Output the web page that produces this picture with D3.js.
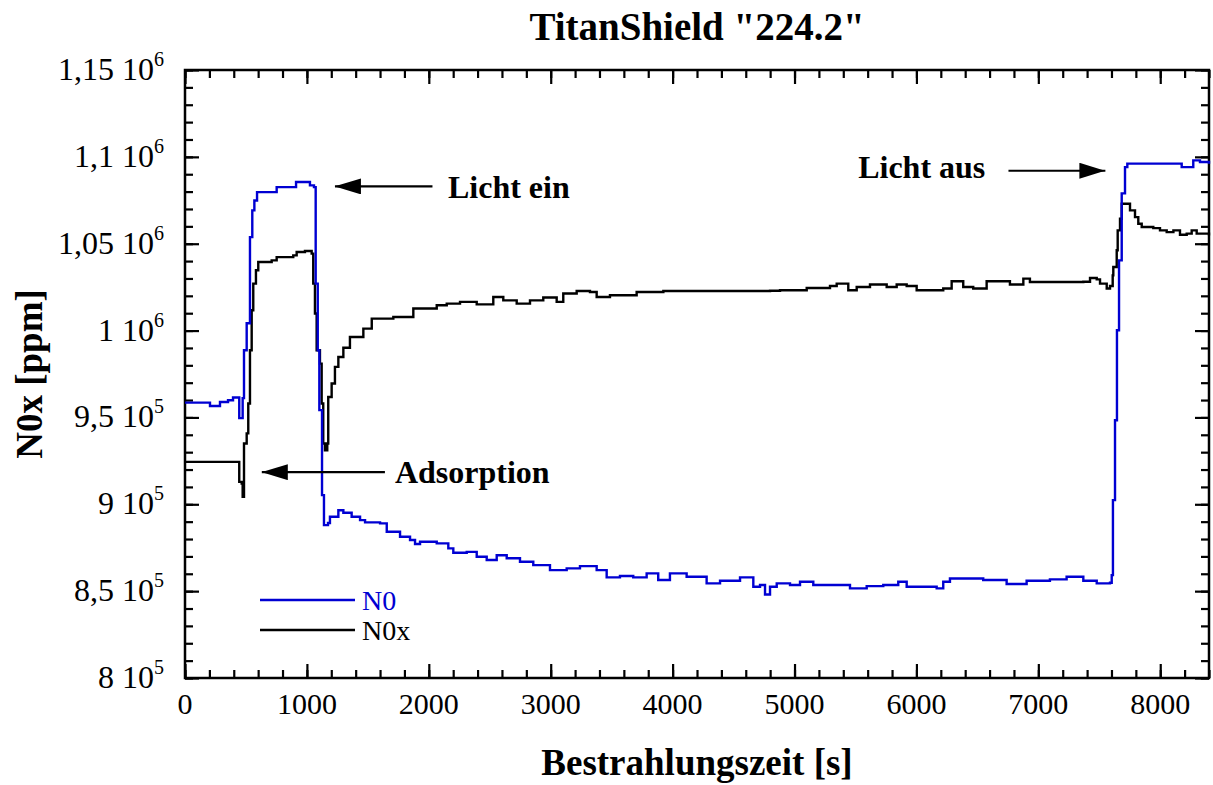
<!DOCTYPE html>
<html>
<head>
<meta charset="utf-8">
<script src="https://cdn.jsdelivr.net/npm/d3@7"></script>
<style>
  body { margin: 0; background: #fff; }
  text { font-family: "Liberation Serif", "Times New Roman", serif; }
</style>
</head>
<body>
<div id="chart"></div>
<script>
// size of the svg
var svgWidth = 1213;
var svgHeight = 785;
var margins = { top: 70, right: 4, left: 185, bottom: 107 };
var width = svgWidth - margins.left - margins.right;
var height = svgHeight - margins.top - margins.bottom;

// N0 (blue) : time [s], ppm
var n0Time = [0, 205, 287, 353, 394, 440, 445, 465, 473, 484, 506, 533, 552, 569, 591, 722, 752, 886, 911, 1001, 1025, 1058,
  1072, 1089, 1102, 1124, 1140, 1173, 1189, 1258, 1299, 1367, 1436, 1477, 1600, 1655, 1764, 1846, 1887, 1928, 2065, 2160,
  2201, 2311, 2393, 2475, 2557, 2639, 2748, 2857, 2994, 3131, 3240, 3377, 3459, 3568, 3677, 3787, 3882, 3978, 4115, 4279,
  4389, 4553, 4662, 4717, 4758, 4799, 4854, 4963, 5045, 5154, 5346, 5455, 5592, 5728, 5851, 5920, 6166, 6220, 6275, 6548,
  6740, 6904, 7095, 7232, 7369, 7479, 7588, 7602, 7612, 7629, 7645, 7662, 7684, 7711, 7730, 8135, 8176, 8271, 8326, 8400];
var n0Value = [958500, 956600, 958900, 959900, 961500, 961500, 949600, 949600, 961100, 988700, 1004200, 1053800, 1069200, 1074900, 1079700, 1079700, 1082600, 1082600, 1085500, 1085500, 1083600, 1082600,
  1027000, 988700, 954200, 905300, 888000, 889200, 892800, 896600, 895100, 892800, 890900, 889600, 889000, 884200, 881300, 879400, 877100, 878400, 877500, 874600,
  872100, 872600, 869800, 867900, 870700, 868900, 866900, 865000, 862100, 863100, 864400, 862100, 857900, 858700, 857900, 860200, 856400, 860200, 858300, 854500,
  856000, 857900, 852500, 853500, 848100, 852500, 854500, 853500, 855400, 853500, 853500, 851600, 852900, 853500, 855400, 852500, 851600, 855400, 857300, 856400,
  854100, 856000, 856800, 858300, 856000, 854500, 854800, 859200, 902400, 948400, 1000200, 1040400, 1079000, 1094100, 1096100, 1096100, 1094100, 1098000, 1097000, 1096100];

// N0x (black)
var n0xTime = [0, 437, 445, 465, 473, 484, 506, 519, 533, 547, 560, 582, 601, 711, 752, 888, 916, 984, 1039, 1052, 1066, 1080,
  1107, 1121, 1134, 1148, 1167, 1175, 1203, 1230, 1258, 1299, 1353, 1463, 1532, 1709, 1873, 2065, 2147, 2256, 2393, 2529,
  2611, 2721, 2830, 2939, 3049, 3103, 3213, 3322, 3377, 3486, 3650, 3705, 3924, 4799, 4881, 5100, 5291, 5346, 5441, 5510,
  5619, 5756, 5838, 5920, 6002, 6220, 6289, 6384, 6466, 6576, 6685, 6767, 6877, 6931, 7369, 7424, 7479, 7506, 7561, 7588,
  7610, 7615, 7643, 7651, 7670, 7684, 7725, 7752, 7793, 7820, 7848, 7943, 7998, 8053, 8108, 8162, 8217, 8258, 8299, 8400];
var n0xValue = [924400, 924400, 912900, 912000, 904300, 935000, 940800, 958000, 988700, 1011700, 1027000, 1034700, 1039500, 1040400, 1042300, 1043300, 1045200, 1045800, 1044300, 1027000, 1009800, 988700,
  981000, 958000, 935000, 931100, 935000, 961800, 969500, 979100, 984800, 990100, 996300, 1001100, 1006900, 1007800, 1012700, 1014600, 1015500, 1016500, 1015100, 1019300,
  1017400, 1015500, 1017400, 1019000, 1016500, 1021300, 1022800, 1022200, 1019300, 1020300, 1020300, 1022200, 1022800, 1022900, 1023200, 1024500, 1025700, 1027000, 1023200, 1025100,
  1026500, 1025100, 1026500, 1025700, 1023200, 1024200, 1028400, 1025100, 1024200, 1028400, 1028400, 1026500, 1029900, 1028000, 1028100, 1030300, 1029500, 1027000, 1024200, 1025700,
  1031800, 1036600, 1046200, 1057700, 1064400, 1073000, 1073000, 1069200, 1065300, 1061500, 1059600, 1059000, 1057700, 1056700, 1057700, 1055200, 1055800, 1057700, 1055800, 1054800];

// tick labels
var xTicks = [0, 1000, 2000, 3000, 4000, 5000, 6000, 7000, 8000];
var yTicks = [800000, 850000, 900000, 950000, 1000000, 1050000, 1100000, 1150000];
var yTickMant = ["8", "8,5", "9", "9,5", "1", "1,05", "1,1", "1,15"];
var yTickExp = ["5", "5", "5", "5", "6", "6", "6", "6"];

// annotations: arrow from (t0,v0) to tip (t1,v1), text at (tt,vt)
var annoText = ["Licht ein", "Adsorption", "Licht aus"];
var annoFrom = [[2030, 1083000], [1640, 918500], [6755, 1092000]];
var annoTo = [[1230, 1083000], [630, 918500], [7550, 1092000]];
var annoAt = [[2157, 1076100], [1722, 912200], [5522, 1087600]];

var svg = d3.select('#chart').append('svg').attr('width', svgWidth).attr('height', svgHeight);
var chart = svg.append('g').attr('transform', `translate(${margins.left}, ${margins.top})`);

var xScale = d3.scaleLinear().domain([0, 8400]).range([0, width]);
var yScale = d3.scaleLinear().domain([800000, 1150000]).range([height, 0]);

// minor ticks first, majors on top
function minorAxis(ax) { return ax.tickSize(-8).tickFormat('').tickSizeOuter(0); }
function majorAxis(ax) { return ax.tickSize(-14).tickFormat('').tickSizeOuter(0); }

var xMinor = d3.range(0, 8401, 200);
var yMinor = d3.range(800000, 1150001, 10000);

chart.append('g').attr('transform', `translate(0, ${height})`).call(minorAxis(d3.axisBottom(xScale).tickValues(xMinor)));
chart.append('g').call(minorAxis(d3.axisTop(xScale).tickValues(xMinor)));
chart.append('g').call(minorAxis(d3.axisLeft(yScale).tickValues(yMinor)));
chart.append('g').attr('transform', `translate(${width}, 0)`).call(minorAxis(d3.axisRight(yScale).tickValues(yMinor)));

chart.append('g').attr('transform', `translate(0, ${height})`).call(majorAxis(d3.axisBottom(xScale).tickValues(xTicks)));
chart.append('g').call(majorAxis(d3.axisTop(xScale).tickValues(xTicks)));
chart.append('g').call(majorAxis(d3.axisLeft(yScale).tickValues(yTicks)));
chart.append('g').attr('transform', `translate(${width}, 0)`).call(majorAxis(d3.axisRight(yScale).tickValues(yTicks)));

chart.selectAll('.tick line').attr('stroke', '#000').attr('stroke-width', 2.2);
chart.selectAll('.domain').remove();

// frame
chart.append('rect')
  .attr('x', 0).attr('y', 0).attr('width', width).attr('height', height)
  .attr('fill', 'none').attr('stroke', '#000').attr('stroke-width', 2.5);

// x tick labels
chart.selectAll('.xlab').data(xTicks).enter().append('text')
  .attr('x', d => xScale(d)).attr('y', height + 36)
  .attr('text-anchor', 'middle').attr('font-size', '30px')
  .text(d => d);

// y tick labels with power of ten
yTicks.forEach(function(v, i) {
  var t = chart.append('text')
    .attr('x', -21).attr('y', yScale(v) + 10)
    .attr('text-anchor', 'end').attr('font-size', '32px');
  t.append('tspan').text(yTickMant[i] + ' 10');
  t.append('tspan').attr('dy', -14).attr('font-size', '20px').text(yTickExp[i]);
});

// lines
var line = d3.line().curve(d3.curveStepAfter).x(d => xScale(d[0])).y(d => yScale(d[1]));
var n0Data = n0Time.map((t, i) => [t, n0Value[i]]);
var n0xData = n0xTime.map((t, i) => [t, n0xValue[i]]);

chart.append('path').datum(n0xData).attr('d', line)
  .attr('fill', 'none').attr('stroke', '#000').attr('stroke-width', 2.4);
chart.append('path').datum(n0Data).attr('d', line)
  .attr('fill', 'none').attr('stroke', '#0000d2').attr('stroke-width', 2.4);

// arrows
svg.append('defs').append('marker')
  .attr('id', 'head').attr('viewBox', '0 0 26 16').attr('refX', 26).attr('refY', 8)
  .attr('markerWidth', 26).attr('markerHeight', 16).attr('markerUnits', 'userSpaceOnUse')
  .attr('orient', 'auto')
  .append('path').attr('d', 'M0,0 L26,8 L0,16 Z').attr('fill', '#000');

annoText.forEach(function(txt, i) {
  chart.append('line')
    .attr('x1', xScale(annoFrom[i][0])).attr('y1', yScale(annoFrom[i][1]))
    .attr('x2', xScale(annoTo[i][0])).attr('y2', yScale(annoTo[i][1]))
    .attr('stroke', '#000').attr('stroke-width', 2.2)
    .attr('marker-end', 'url(#head)');
  chart.append('text')
    .attr('x', xScale(annoAt[i][0])).attr('y', yScale(annoAt[i][1]))
    .attr('font-size', '32px').attr('font-weight', 'bold')
    .text(txt);
});

// legend
var legNames = ['N0', 'N0x'];
var legColors = ['#0000d2', '#000'];
legNames.forEach(function(n, i) {
  var yy = 530 + i * 30;
  chart.append('line').attr('x1', 75).attr('x2', 170).attr('y1', yy).attr('y2', yy)
    .attr('stroke', legColors[i]).attr('stroke-width', 2.4);
  chart.append('text').attr('x', 177).attr('y', yy + 10)
    .attr('font-size', '28px').attr('fill', legColors[i]).text(n);
});

// title & axis titles
svg.append('text')
  .attr('x', margins.left + width / 2).attr('y', 40)
  .attr('text-anchor', 'middle').attr('font-size', '39px').attr('font-weight', 'bold')
  .text('TitanShield "224.2"');

svg.append('text')
  .attr('transform', `translate(${margins.left + width / 2}, 775)`)
  .attr('text-anchor', 'middle').attr('font-size', '37px').attr('font-weight', 'bold')
  .text('Bestrahlungszeit [s]');

svg.append('text')
  .attr('transform', `translate(42, ${margins.top + height / 2}) rotate(-90)`)
  .attr('text-anchor', 'middle').attr('font-size', '37px').attr('font-weight', 'bold')
  .text('N0x [ppm]');
</script>
</body>
</html>
